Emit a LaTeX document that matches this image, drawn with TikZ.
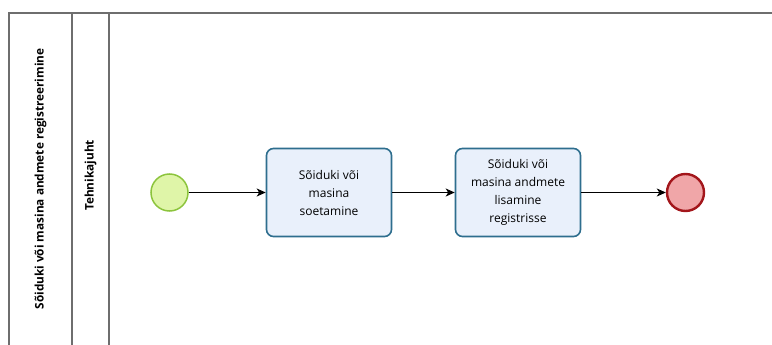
\documentclass[tikz,border=0pt]{standalone}
\usepackage{fontspec}
\setmainfont{Open Sans}
\usetikzlibrary{arrows.meta}
\definecolor{startfill}{HTML}{DFF5A8}
\definecolor{startline}{HTML}{8CC43C}
\definecolor{taskfill}{HTML}{E9F0FB}
\definecolor{taskline}{HTML}{2E6E8E}
\definecolor{endfill}{HTML}{F0A6A8}
\definecolor{endline}{HTML}{A3161B}
\definecolor{laneline}{HTML}{6E6E6E}
\tikzset{
  lane/.style={draw=laneline, line width=1.1pt},
  startev/.style={circle, draw=startline, fill=startfill, line width=1.5pt, minimum size=37pt, inner sep=0pt},
  endev/.style={circle, draw=endline, fill=endfill, line width=2.4pt, minimum size=37pt, inner sep=0pt},
  task/.style={rectangle, rounded corners=7pt, draw=taskline, fill=taskfill, line width=1.6pt,
    minimum width=125pt, minimum height=88pt, align=center, font=\fontsize{12}{18}\selectfont, inner sep=2pt},
  flow/.style={-{Stealth[length=9pt,width=8pt,inset=2.5pt]}, line width=1pt, black},
  lanelabel/.style={rotate=90, font=\bfseries\fontsize{11.8}{14}\selectfont}
}
\begin{document}
\begin{tikzpicture}[x=1pt,y=-1pt]
  \useasboundingbox[fill=white] (0,0) rectangle (772,345);
  % pool and lane frame
  \draw[lane] (9,360) -- (9,13) -- (790,13);
  \draw[lane] (72,13) -- (72,360);
  \draw[lane] (109,13) -- (109,360);
  \node[lanelabel] (pool) at (40.5,179) {Sõiduki või masina andmete registreerimine};
  \node[lanelabel] (lane) at (90.5,175.5) {Tehnikajuht};
  % process
  \node[startev] (start) at (169.5,192.5) {};
  \node[task] (t1) at (329,192.5) {Sõiduki või\\masina\\soetamine};
  \node[task] (t2) at (518,192.5) {Sõiduki või\\masina andmete\\lisamine\\registrisse};
  \node[endev] (end) at (685.5,192.5) {};
  \draw[flow] (start) -- (t1);
  \draw[flow] (t1) -- (t2);
  \draw[flow] (t2) -- (end);
\end{tikzpicture}
\end{document}
